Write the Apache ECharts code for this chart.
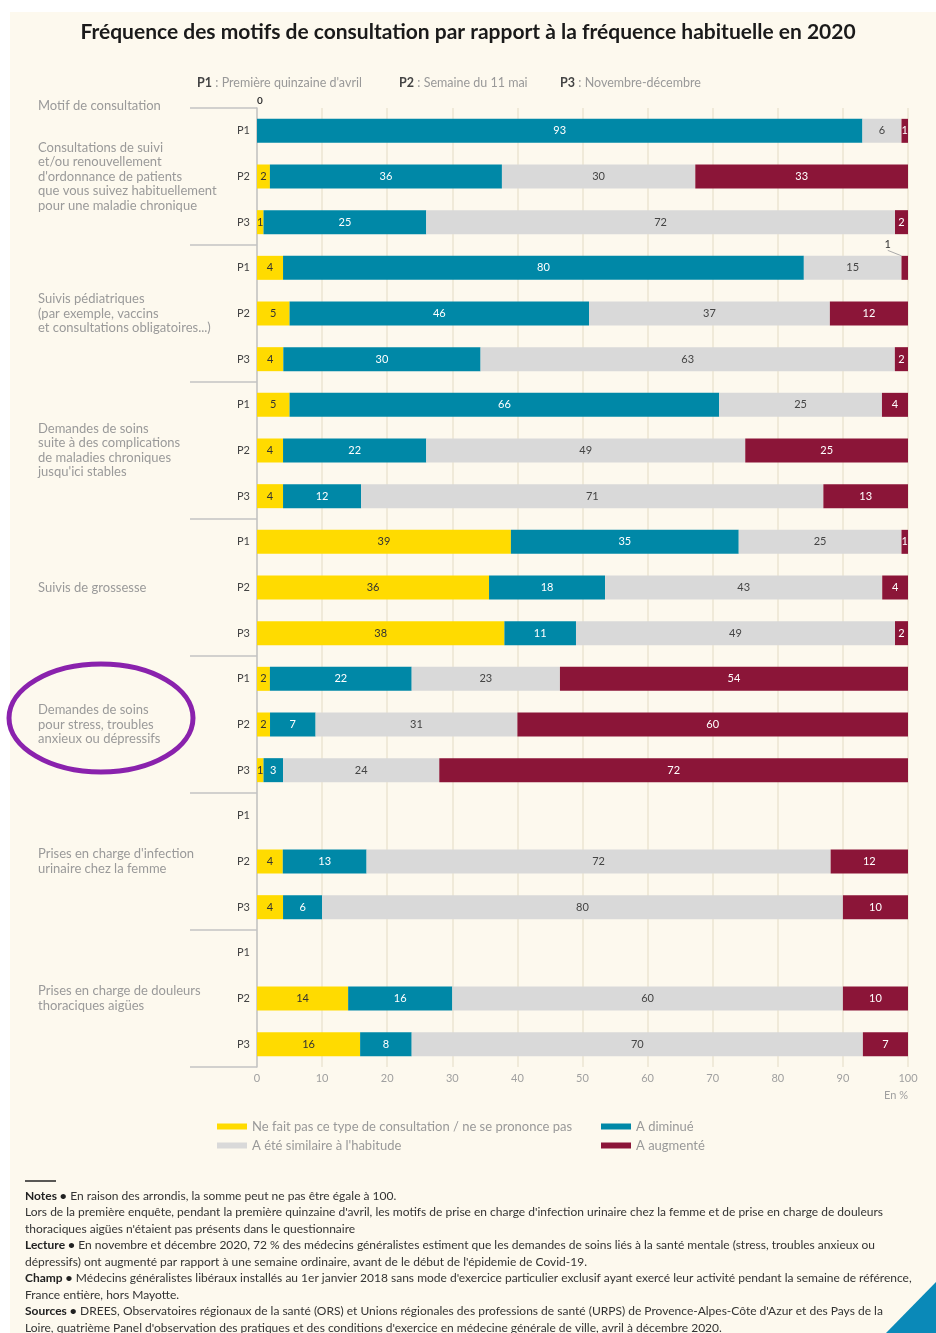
<!DOCTYPE html>
<html>
<head>
<meta charset="utf-8">
<script src="https://cdn.jsdelivr.net/npm/echarts@6/dist/echarts.min.js"></script>
<style>
html,body{margin:0;padding:0;background:#ffffff;}
#chart{width:936px;height:1333px;}
</style>
</head>
<body>
<div id="chart"></div>
<script>
// ---- Data ----
const groups = [
  "Consultations de suivi\net/ou renouvellement\nd'ordonnance de patients\nque vous suivez habituellement\npour une maladie chronique",
  "Suivis pédiatriques\n(par exemple, vaccins\net consultations obligatoires...)",
  "Demandes de soins\nsuite à des complications\nde maladies chroniques\njusqu'ici stables",
  "Suivis de grossesse",
  "Demandes de soins\npour stress, troubles\nanxieux ou dépressifs",
  "Prises en charge d'infection\nurinaire chez la femme",
  "Prises en charge de douleurs\nthoraciques aigües"
];
const periods = ["P1","P2","P3"];
const rowLabels = groups.flatMap(() => periods);
const seriesNames = [
  "Ne fait pas ce type de consultation / ne se prononce pas",
  "A diminué",
  "A été similaire à l'habitude",
  "A augmenté"
];
const nonConcerne = [0,2,1, 4,5,4, 5,4,4, 39,36,38, 2,2,1, null,4,4, null,14,16];
const diminue     = [93,36,25, 80,46,30, 66,22,12, 35,18,11, 22,7,3, null,13,6, null,16,8];
const similaire   = [6,30,72, 15,37,63, 25,49,71, 25,43,49, 23,31,24, null,72,80, null,60,70];
const augmente    = [1,33,2, 1,12,2, 4,25,13, 1,4,2, 54,60,72, null,12,10, null,10,7];
const xTicks = [0,10,20,30,40,50,60,70,80,90,100];

const colors = ["#ffdb00", "#0088a7", "#d9d9d9", "#8b1538"];
const labelColors = ["#333333", "#ffffff", "#444444", "#ffffff"];
const raw = [nonConcerne, diminue, similaire, augmente];

// totals per row (rounded values may not sum to 100) — bars span the full 100 %
const totals = rowLabels.map((_, i) => raw.reduce((s, arr) => s + (arr[i] || 0), 0));

const FONT = "Lato, 'Open Sans', sans-serif";

const series = raw.map((arr, si) => ({
  name: seriesNames[si],
  type: 'bar',
  stack: 'total',
  barWidth: 24,
  itemStyle: { color: colors[si] },
  data: arr.map((v, i) => {
    const val = (v === null || totals[i] === 0) ? null : v * 100 / totals[i];
    if (si === 3 && i === 3) {
      return { value: val, label: { color: '#333333' }, labelLine: { show: true, lineStyle: { color: '#aaaaaa', width: 1 } } };
    }
    return val;
  }),
  label: {
    show: true,
    position: 'inside',
    color: labelColors[si],
    fontFamily: FONT,
    fontSize: 11,
    formatter: p => (arr[p.dataIndex] ? String(arr[p.dataIndex]) : '')
  },
  labelLayout: si === 3 ? (p => (p.dataIndex === 3 ? { dx: -17, dy: -23 } : {})) : undefined,
  emphasis: { disabled: true }
}));

const notesRich = {
  b: { fontFamily: FONT, fontSize: 12, fontWeight: 'bold', fill: '#222', lineHeight: 16.5 },
  n: { fontFamily: FONT, fontSize: 12, fill: '#333', lineHeight: 16.5 }
};
const notesText = [
  "{b|Notes •} {n|En raison des arrondis, la somme peut ne pas être égale à 100.}",
  "{n|Lors de la première enquête, pendant la première quinzaine d'avril, les motifs de prise en charge d'infection urinaire chez la femme et de prise en charge de douleurs}",
  "{n|thoraciques aigües n'étaient pas présents dans le questionnaire}",
  "{b|Lecture •} {n|En novembre et décembre 2020, 72 % des médecins généralistes estiment que les demandes de soins liés à la santé mentale (stress, troubles anxieux ou}",
  "{n|dépressifs) ont augmenté par rapport à une semaine ordinaire, avant de le début de l'épidemie de Covid-19.}",
  "{b|Champ •} {n|Médecins généralistes libéraux installés au 1er janvier 2018 sans mode d'exercice particulier exclusif ayant exercé leur activité pendant la semaine de référence,}",
  "{n|France entière, hors Mayotte.}",
  "{b|Sources •} {n|DREES, Observatoires régionaux de la santé (ORS) et Unions régionales des professions de santé (URPS) de Provence-Alpes-Côte d'Azur et des Pays de la}",
  "{n|Loire, quatrième Panel d'observation des pratiques et des conditions d'exercice en médecine générale de ville, avril à décembre 2020.}"
].join("\n");

const pRich = { b: { fontFamily: FONT, fontSize: 12.5, fontWeight: 'bold', fill: '#444' }, n: { fontFamily: FONT, fontSize: 12.5, fill: '#999' } };

const chart = echarts.init(document.getElementById('chart'), null, { renderer: 'canvas' });
chart.setOption({
  backgroundColor: '#ffffff',
  animation: false,
  textStyle: { fontFamily: FONT },
  title: {
    text: "Fréquence des motifs de consultation par rapport à la fréquence habituelle en 2020",
    left: 'center',
    top: 17,
    textStyle: { fontFamily: FONT, fontSize: 21, fontWeight: 'bold', color: '#1a1a1a' }
  },
  legend: [
    {
      data: [seriesNames[0], seriesNames[2]],
      orient: 'vertical', left: 212, top: 1115, itemGap: 6,
      icon: 'rect', itemWidth: 30, itemHeight: 6,
      textStyle: { color: '#999999', fontSize: 13, fontFamily: FONT },
      selectedMode: false
    },
    {
      data: [seriesNames[1], seriesNames[3]],
      orient: 'vertical', left: 596, top: 1115, itemGap: 6,
      icon: 'rect', itemWidth: 30, itemHeight: 6,
      textStyle: { color: '#999999', fontSize: 13, fontFamily: FONT },
      selectedMode: false
    }
  ],
  grid: { left: 257, right: 28, top: 108, bottom: 266, containLabel: false },
  xAxis: [
    {
      type: 'value', min: 0, max: 100, interval: 10, position: 'bottom',
      axisLine: { show: false }, axisTick: { show: false },
      axisLabel: { color: '#a0a0a0', fontSize: 11, margin: 6, fontFamily: FONT,
                   formatter: v => (xTicks.includes(v) ? String(v) : '') },
      splitLine: { show: true, lineStyle: { color: '#ebe5d2', width: 1.5 } }
    },
    {
      type: 'value', min: 0, max: 100, interval: 10, position: 'top',
      axisLine: { show: false }, axisTick: { show: false },
      axisLabel: { color: '#333333', fontSize: 10, fontWeight: 'bold', margin: 2, align: 'left',
                   formatter: v => (v === 0 ? '0' : '') },
      splitLine: { show: false }
    }
  ],
  yAxis: [
    {
      type: 'category', data: rowLabels, inverse: true,
      axisLine: { show: true, lineStyle: { color: '#c4c4c4', width: 1.5 } },
      axisTick: { show: false },
      axisLabel: { color: '#444444', fontSize: 11, margin: 7, fontFamily: FONT }
    },
    {
      type: 'category', data: groups, inverse: true, position: 'left',
      axisLine: { show: false },
      axisTick: { show: true, length: 67, lineStyle: { color: '#c4c4c4', width: 1.5 } },
      axisLabel: { color: '#9a9a9a', fontSize: 13, align: 'left', margin: 219, lineHeight: 14.5, fontFamily: FONT }
    }
  ],
  series: series,
  graphic: [
    { type: 'rect', z: -10, silent: true, shape: { x: 10, y: 12, width: 926, height: 1321 }, style: { fill: '#fdf9ee' } },
    { type: 'text', left: 38, top: 99, style: { text: 'Motif de consultation', fill: '#9a9a9a', font: "13px Lato, 'Open Sans', sans-serif" } },
    { type: 'text', left: 197, top: 76, style: { text: '{b|P1} {n|: Première quinzaine d\'avril}', rich: pRich } },
    { type: 'text', left: 399, top: 76, style: { text: '{b|P2} {n|: Semaine du 11 mai}', rich: pRich } },
    { type: 'text', left: 560, top: 76, style: { text: '{b|P3} {n|: Novembre-décembre}', rich: pRich } },
    { type: 'text', right: 28, top: 1090, style: { text: 'En %', fill: '#a0a0a0', font: "11px Lato, 'Open Sans', sans-serif" } },
    { type: 'line', shape: { x1: 25, y1: 1181, x2: 56, y2: 1181 }, style: { stroke: '#222', lineWidth: 1.5 } },
    { type: 'text', left: 25, top: 1190, style: { text: notesText, rich: notesRich } },
    { type: 'polygon', shape: { points: [[886, 1333], [936, 1333], [936, 1282]] }, style: { fill: '#0a89b8' } },
    { type: 'ellipse', shape: { cx: 101, cy: 718, rx: 92, ry: 54 }, style: { fill: 'none', stroke: '#8a22ad', lineWidth: 5 } }
  ]
});
</script>
</body>
</html>
